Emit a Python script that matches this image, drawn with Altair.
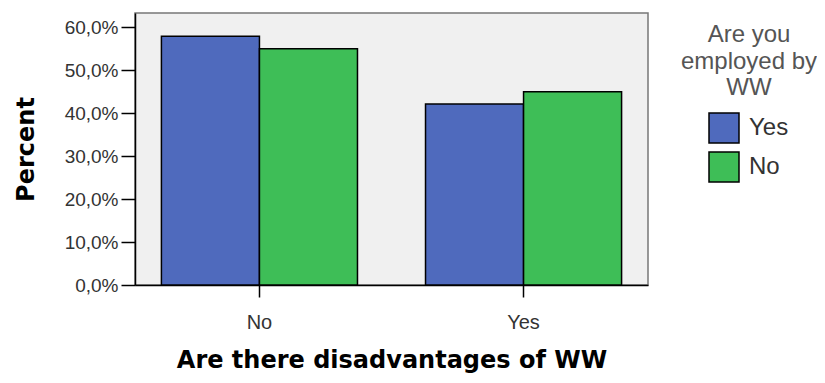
import altair as alt
import pandas as pd

# ---- data ----
disadvantages = ["No", "No", "Yes", "Yes"]
employed = ["Yes", "No", "Yes", "No"]
percent = [57.9, 55.0, 42.1, 45.0]

x_categories = ["No", "Yes"]
legend_categories = ["Yes", "No"]
bar_colors = ["#4F6ABD", "#3EBE57"]
y_ticks = [0, 10, 20, 30, 40, 50, 60]
legend_title_lines = ["Are you", "employed by", "WW"]

df = pd.DataFrame({"disadv": disadvantages, "employed": employed, "percent": percent})
title_df = pd.DataFrame({"t": ["\n".join(legend_title_lines)]})

LABEL_FONT = "Liberation Sans"
TITLE_FONT = "DejaVu Sans"

bars = alt.Chart(df).mark_bar(stroke="black", strokeWidth=1.5).encode(
    x=alt.X(
        "disadv:N",
        sort=x_categories,
        scale=alt.Scale(paddingInner=0.2576, paddingOuter=0.1),
        axis=alt.Axis(
            title="Are there disadvantages of WW",
            labelAngle=0,
            labelFont=LABEL_FONT,
            labelFontSize=20,
            labelColor="#333333",
            labelPadding=15,
            tickSize=12,
            tickColor="black",
            tickWidth=1.5,
            domainColor="black",
            domainWidth=1.5,
            titleFont=TITLE_FONT,
            titleFontSize=24,
            titleFontWeight="bold",
            titleColor="black",
            titleBaseline="alphabetic",
            titleX=256.5,
            titleY=82,
        ),
    ),
    xOffset=alt.XOffset(
        "employed:N",
        sort=legend_categories,
        scale=alt.Scale(paddingInner=0, paddingOuter=0),
    ),
    y=alt.Y(
        "percent:Q",
        scale=alt.Scale(domain=[0, 63.3], nice=False, zero=True),
        axis=alt.Axis(
            title="Percent",
            values=y_ticks,
            labelExpr="replace(format(datum.value, '.1f'), '.', ',') + '%'",
            labelFont=LABEL_FONT,
            labelFontSize=19,
            labelColor="#333333",
            labelPadding=3,
            tickSize=14,
            tickColor="black",
            tickWidth=1.5,
            domainColor="black",
            domainWidth=1.5,
            grid=False,
            titleFont=TITLE_FONT,
            titleFontSize=24,
            titleFontWeight="bold",
            titleColor="black",
            titleBaseline="alphabetic",
            titleAlign="center",
            titleX=-102,
            titleY=136,
        ),
    ),
    color=alt.Color(
        "employed:N",
        scale=alt.Scale(domain=legend_categories, range=bar_colors),
        legend=alt.Legend(
            title=None,
            orient="none",
            legendX=573,
            legendY=99,
            padding=0,
            symbolType="square",
            symbolSize=900,
            symbolStrokeColor="black",
            symbolStrokeWidth=1.5,
            symbolOpacity=1,
            labelFont=LABEL_FONT,
            labelFontSize=24,
            labelColor="#333333",
            labelOffset=9,
            rowPadding=3,
        ),
    ),
)

legend_title = alt.Chart(title_df).mark_text(
    font=LABEL_FONT,
    fontSize=24,
    color="#555555",
    align="center",
    baseline="alphabetic",
    lineBreak="\n",
    lineHeight=26.5,
).encode(
    text="t:N",
    x=alt.value(614),
    y=alt.value(29),
)

chart = alt.layer(bars, legend_title).properties(
    width=513,
    height=272,
    padding={"left": 127, "top": 5, "right": 169, "bottom": 90},
    autosize=alt.AutoSizeParams(type="none"),
).configure_view(
    fill="#F0F0F0",
    stroke="#777777",
    strokeWidth=1.5,
)

chart.save("out.html", embed_options={"renderer": "svg", "actions": False})
